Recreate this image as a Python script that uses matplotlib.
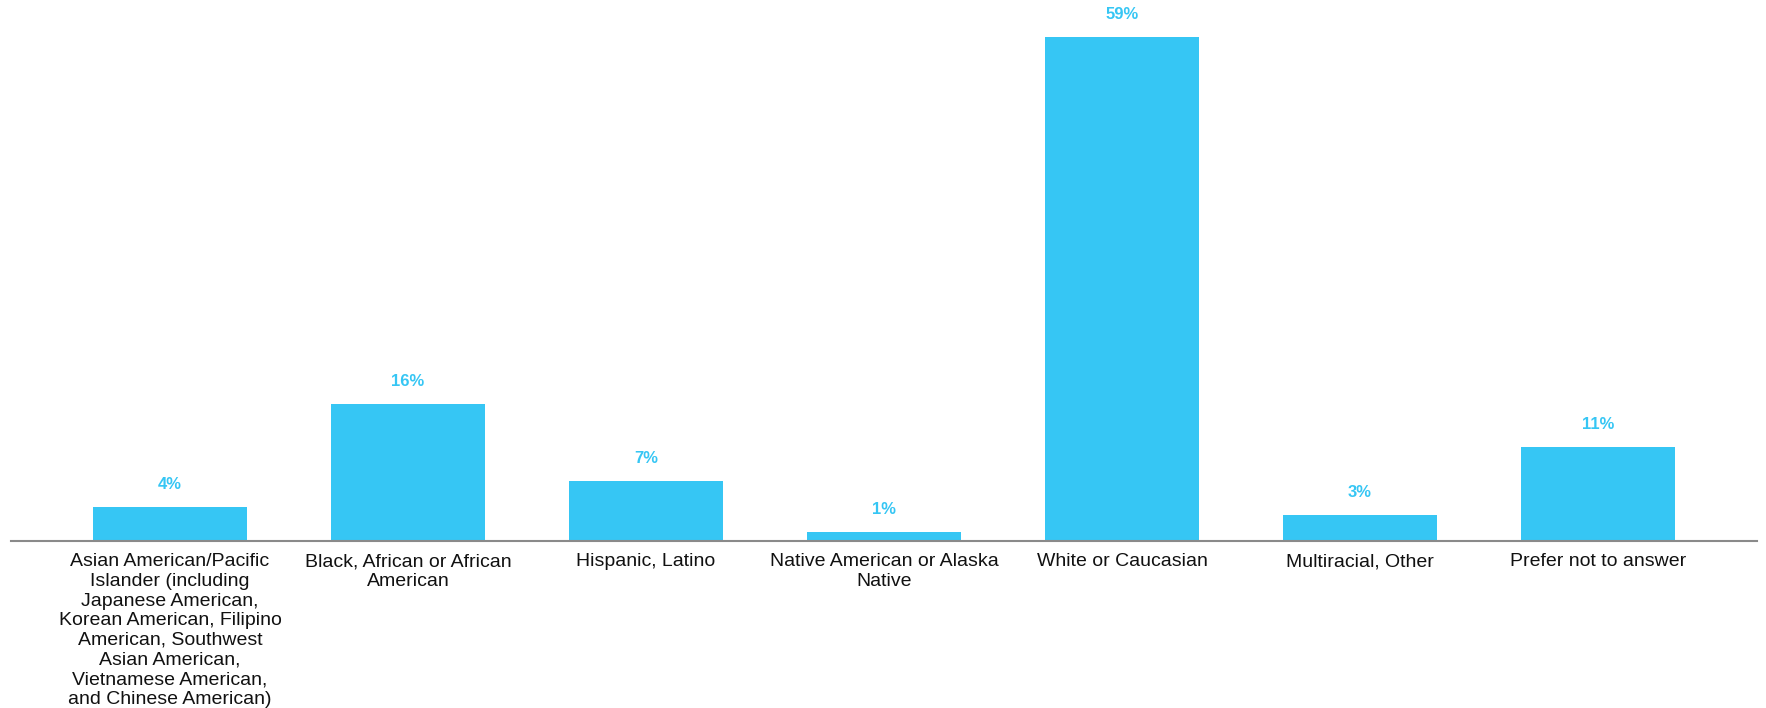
import matplotlib.pyplot as plt
import numpy as np

categories = [
    "Asian American/Pacific\nIslander (including\nJapanese American,\nKorean American, Filipino\nAmerican, Southwest\nAsian American,\nVietnamese American,\nand Chinese American)",
    "Black, African or African\nAmerican",
    "Hispanic, Latino",
    "Native American or Alaska\nNative",
    "White or Caucasian",
    "Multiracial, Other",
    "Prefer not to answer",
]
values = [4, 16, 7, 1, 59, 3, 11]
value_labels = ["4%", "16%", "7%", "1%", "59%", "3%", "11%"]

bar_color = "#36C6F4"

plt.rcParams['font.family'] = ['Liberation Sans', 'DejaVu Sans']

fig = plt.figure(figsize=(17.66, 7.08), dpi=100)
ax = fig.add_axes([11 / 1766, 1 - 541 / 708, 1746 / 1766, 541 / 708])

x = np.arange(len(categories))
ax.bar(x, values, width=0.643, color=bar_color, zorder=2)

for xi, v, lab in zip(x, values, value_labels):
    ax.annotate(lab, (xi, v), xytext=(0, 15), textcoords='offset pixels',
                ha='center', va='bottom', fontsize=12, fontweight='bold',
                color=bar_color)

ax.set_xlim(-0.668, len(categories) - 1 + 0.668)
ax.set_ylim(0, 63.3)
ax.set_xticks(x)
ax.set_xticklabels(categories, fontsize=14, color='#111111', linespacing=1.2)
ax.tick_params(axis='x', length=0, pad=9)
ax.set_yticks([])
for s in ['top', 'right', 'left']:
    ax.spines[s].set_visible(False)
ax.spines['bottom'].set_color('#8a8a8a')
ax.spines['bottom'].set_linewidth(1.5)

plt.savefig('out.png', dpi=100)
